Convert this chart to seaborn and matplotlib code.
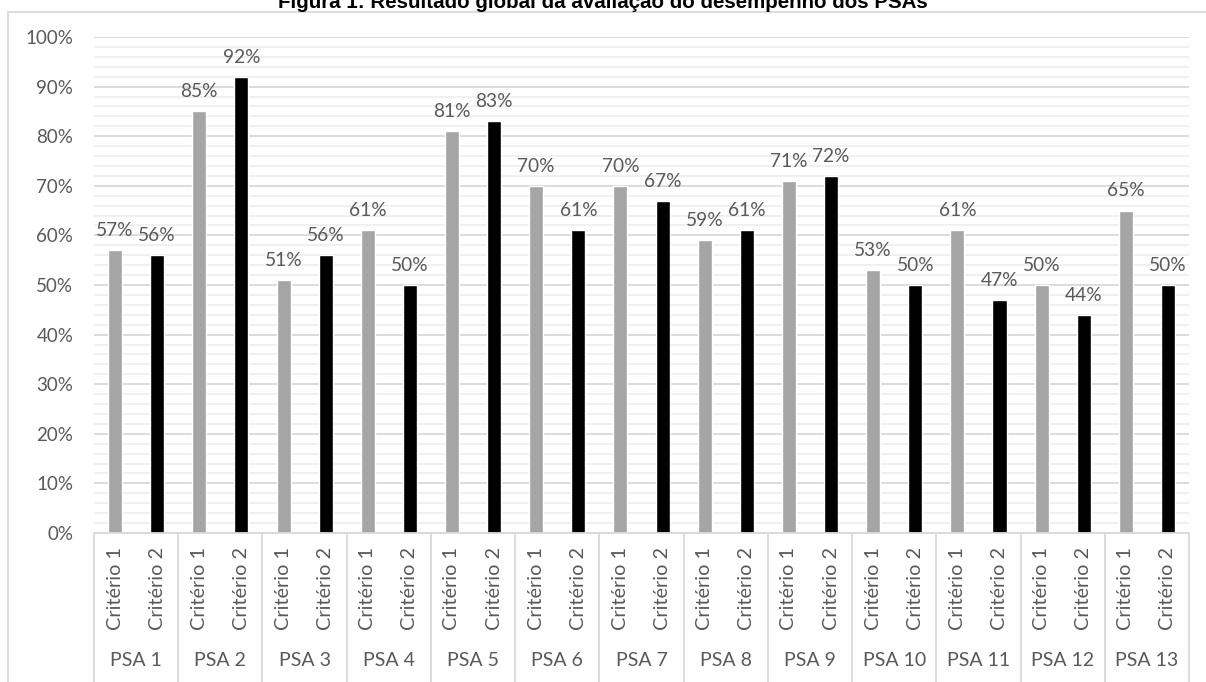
import matplotlib
matplotlib.use("Agg")
import matplotlib.pyplot as plt
from matplotlib.ticker import MultipleLocator, PercentFormatter
from matplotlib.lines import Line2D
import seaborn as sns
import pandas as pd

psas = ["PSA 1", "PSA 2", "PSA 3", "PSA 4", "PSA 5", "PSA 6", "PSA 7",
        "PSA 8", "PSA 9", "PSA 10", "PSA 11", "PSA 12", "PSA 13"]
criterios = ["Critério 1", "Critério 2"]
criterio1 = [57, 85, 51, 61, 81, 70, 70, 59, 71, 53, 61, 50, 65]
criterio2 = [56, 92, 56, 50, 83, 61, 67, 61, 72, 50, 47, 44, 50]
title = "Figura 1: Resultado global da avaliação do desempenho dos PSAs"

colors = {"Critério 1": "#A5A5A5", "Critério 2": "#000000"}
text_color = "#595959"
grid_major = "#D9D9D9"
grid_minor = "#EFEFEF"

rows = []
for p, c1, c2 in zip(psas, criterio1, criterio2):
    rows.append({"slot": f"{p}|{criterios[0]}", "psa": p, "crit": criterios[0], "val": c1 / 100})
    rows.append({"slot": f"{p}|{criterios[1]}", "psa": p, "crit": criterios[1], "val": c2 / 100})
df = pd.DataFrame(rows)

sns.set_theme(style="white")
plt.rcParams["font.family"] = ["Lato", "DejaVu Sans"]

W, H = 1206, 682
fig = plt.figure(figsize=(W / 100, H / 100), dpi=100)
ax = fig.add_axes([94 / W, (H - 533) / H, (1189 - 94) / W, (533 - 37) / H])

sns.barplot(data=df, x="slot", y="val", hue="crit", palette=colors,
            dodge=False, width=1 / 3, ax=ax, legend=False, saturation=1)

ax.set_ylim(0, 1)
ax.set_xlim(-0.5, len(df) - 0.5)
ax.yaxis.set_major_locator(MultipleLocator(0.1))
ax.yaxis.set_minor_locator(MultipleLocator(0.02))
ax.yaxis.set_major_formatter(PercentFormatter(1.0, decimals=0))
ax.grid(False)
ax.grid(axis="y", which="minor", color=grid_minor, linewidth=1.3, zorder=0)
ax.grid(axis="y", which="major", color=grid_major, linewidth=1.3, zorder=0)
ax.set_axisbelow(True)
for s in ax.spines.values():
    s.set_visible(False)

ax.tick_params(axis="y", which="both", length=0, pad=15, labelsize=13.5, labelcolor=text_color)
ax.tick_params(axis="x", length=0, pad=10, labelsize=14.3, labelcolor=text_color)
ax.set_xticks(range(len(df)))
ax.set_xticklabels(df["crit"], rotation=90, va="top", ha="center")
ax.set_xlabel("")
ax.set_ylabel("")

# bar value labels
for cont in ax.containers:
    ax.bar_label(cont, labels=[f"{v * 100:.0f}%" for v in cont.datavalues],
                 padding=8, fontsize=13.8, color=text_color)

# category axis separators
trans = ax.get_xaxis_transform()
ax.add_line(Line2D([-0.5, len(df) - 0.5], [0, 0], transform=trans, color=grid_major,
                   linewidth=1.3, clip_on=False))
for i in range(len(psas) + 1):
    xb = 2 * i - 0.5
    ax.add_line(Line2D([xb, xb], [0, -0.31], transform=trans, color=grid_major,
                       linewidth=1.3, clip_on=False))
for i, p in enumerate(psas):
    ax.text(2 * i + 0.5, -0.258, p, transform=trans, ha="center", va="center",
            fontsize=14, color=text_color)

# chart outer border
fig.add_artist(Line2D([8 / W, 8 / W], [0, 1 - 12 / H], color=grid_major, linewidth=1.3))
fig.add_artist(Line2D([8 / W, 1], [1 - 12 / H, 1 - 12 / H], color=grid_major, linewidth=1.3))

fig.text(0.5, 1 - 8 / H, title, ha="center", va="baseline", fontsize=14.8,
         fontweight="bold", color="#000000", family=["Liberation Sans", "DejaVu Sans"])

fig.savefig("out.png", dpi=100)
